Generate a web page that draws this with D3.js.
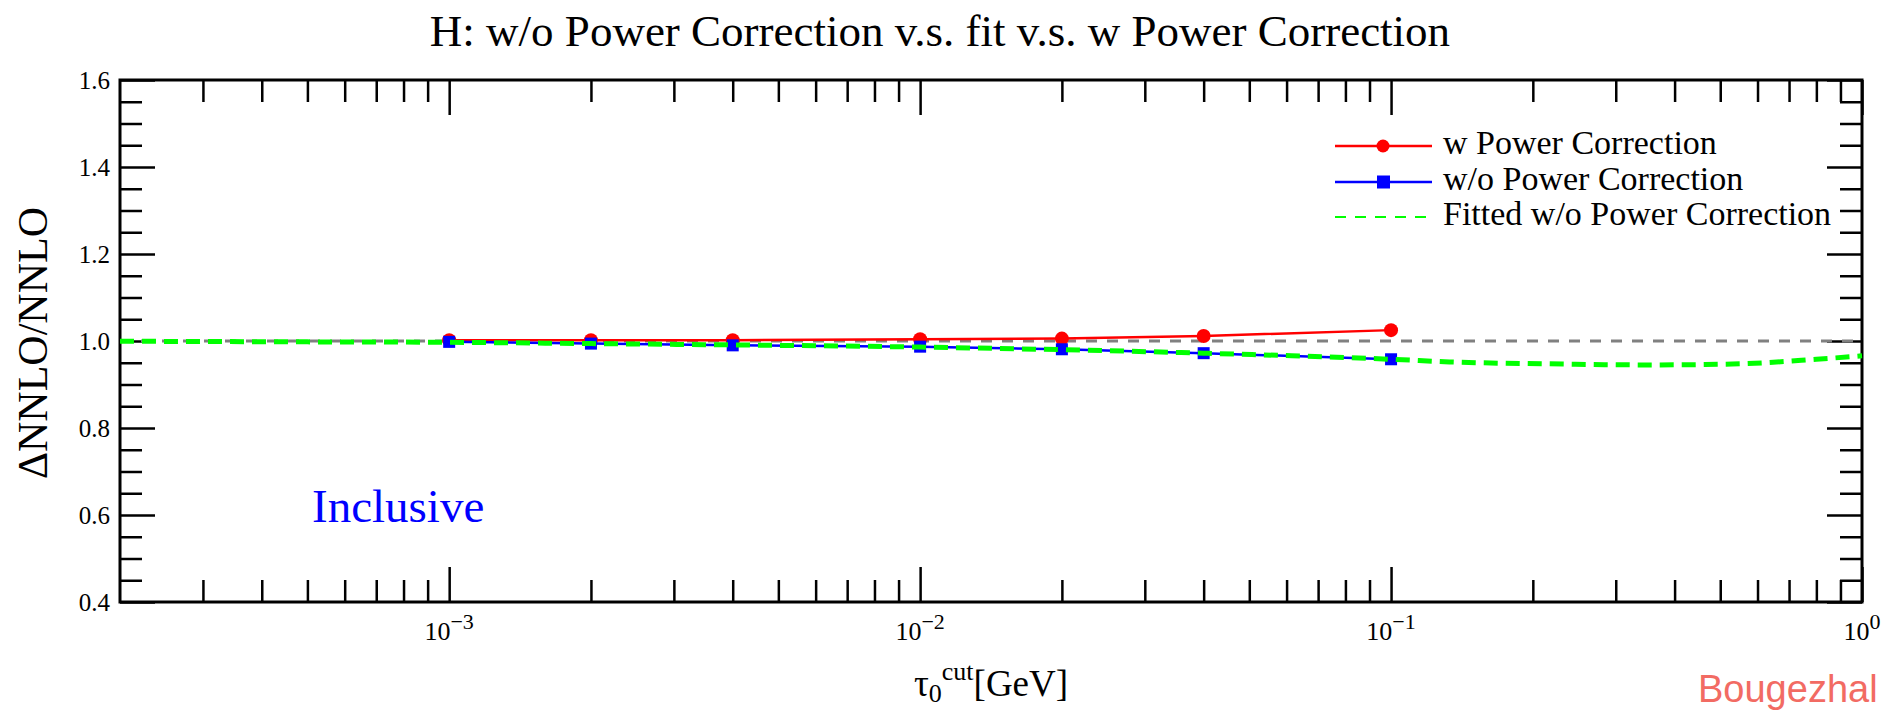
<!DOCTYPE html>
<html>
<head>
<meta charset="utf-8">
<script src="https://cdn.jsdelivr.net/npm/d3@7"></script>
<style>
  body { margin: 0; background: #fff; }
  svg text { font-family: "Liberation Serif", "Times New Roman", serif; fill: #000; }
</style>
</head>
<body>
<div id="chart"></div>
<script>
// Define constants

// Layout of the SVG
const DIMENSIONS = {
  width: 1883,
  height: 712,
  margin: {top: 80, right: 21, bottom: 110, left: 120}
}

// Data
const tauCut = [0.001, 0.002, 0.004, 0.01, 0.02, 0.04, 0.1];
const withPowerCorr = [1.002, 1.002, 1.002, 1.004, 1.0055, 1.0115, 1.025];
const withoutPowerCorr = [0.998, 0.994, 0.990, 0.987, 0.981, 0.972, 0.958];

// Fitted curve (read off the picture, not computed)
const fitTau = [0.0002, 0.0005, 0.001, 0.002, 0.004, 0.01, 0.02, 0.04, 0.1, 0.133, 0.232, 0.35, 0.53, 0.8, 1.0];
const fitValues = [0.9995, 0.998, 0.997, 0.994, 0.991, 0.986, 0.980, 0.972, 0.958, 0.952, 0.947, 0.945, 0.947, 0.958, 0.966];

// Tick labels
const xMajorTicks = [0.001, 0.01, 0.1, 1];
const xMajorExponents = ["−3", "−2", "−1", "0"];
const yMajorTicks = [0.4, 0.6, 0.8, 1.0, 1.2, 1.4, 1.6];

const legendLabels = ["w Power Correction", "w/o Power Correction", "Fitted w/o Power Correction"];

const svg = d3.select("#chart")
  .append("svg")
  .attr("width", DIMENSIONS.width)
  .attr("height", DIMENSIONS.height);

const x = d3.scaleLog()
  .domain([0.0002, 1])
  .range([DIMENSIONS.margin.left, DIMENSIONS.width - DIMENSIONS.margin.right]);

const y = d3.scaleLinear()
  .domain([0.4, 1.6])
  .range([DIMENSIONS.height - DIMENSIONS.margin.bottom, DIMENSIONS.margin.top]);

const x0 = x.range()[0], x1 = x.range()[1];
const y0 = y.range()[0], y1 = y.range()[1];

// minor ticks: 2..9 of every decade inside the domain
const xMinorTicks = [];
[0.0001, 0.001, 0.01, 0.1].forEach(dec => {
  for (let k = 2; k <= 9; k++) {
    const v = dec * k;
    if (v > 0.0002 && v < 1) xMinorTicks.push(v);
  }
});
const yMinorTicks = d3.range(0, 25).map(i => 0.4 + i * 0.05)
  .filter(v => Math.abs((v * 10) % 2) > 0.01);

// Axes, all ticks pointing inward
const styleAxis = g => {
  g.select(".domain").remove();
  g.selectAll("line").attr("stroke", "#000").attr("stroke-width", 2.5);
};

const MAJOR = 35, MINOR = 22;

svg.append("g")
  .attr("transform", `translate(0,${y0})`)
  .call(d3.axisBottom(x).tickValues(xMajorTicks).tickSize(-MAJOR).tickFormat(""))
  .call(styleAxis);
svg.append("g")
  .attr("transform", `translate(0,${y0})`)
  .call(d3.axisBottom(x).tickValues(xMinorTicks).tickSize(-MINOR).tickFormat(""))
  .call(styleAxis);
svg.append("g")
  .attr("transform", `translate(0,${y1})`)
  .call(d3.axisTop(x).tickValues(xMajorTicks).tickSize(-MAJOR).tickFormat(""))
  .call(styleAxis);
svg.append("g")
  .attr("transform", `translate(0,${y1})`)
  .call(d3.axisTop(x).tickValues(xMinorTicks).tickSize(-MINOR).tickFormat(""))
  .call(styleAxis);

svg.append("g")
  .attr("transform", `translate(${x0},0)`)
  .call(d3.axisLeft(y).tickValues(yMajorTicks).tickSize(-MAJOR).tickPadding(10).tickFormat(d3.format(".1f")))
  .call(styleAxis)
  .call(g => g.selectAll("text")
    .attr("font-size", "25px")
    .attr("font-family", "Liberation Serif, Times New Roman, serif")
    .attr("fill", "#000"));
svg.append("g")
  .attr("transform", `translate(${x0},0)`)
  .call(d3.axisLeft(y).tickValues(yMinorTicks).tickSize(-MINOR).tickFormat(""))
  .call(styleAxis);
svg.append("g")
  .attr("transform", `translate(${x1},0)`)
  .call(d3.axisRight(y).tickValues(yMajorTicks).tickSize(-MAJOR).tickFormat(""))
  .call(styleAxis);
svg.append("g")
  .attr("transform", `translate(${x1},0)`)
  .call(d3.axisRight(y).tickValues(yMinorTicks).tickSize(-MINOR).tickFormat(""))
  .call(styleAxis);

// Frame
svg.append("rect")
  .attr("x", x0)
  .attr("y", y1)
  .attr("width", x1 - x0)
  .attr("height", y0 - y1)
  .attr("fill", "none")
  .attr("stroke", "#000")
  .attr("stroke-width", 3);

// x tick labels 10^n
const xLabels = svg.selectAll(".x-label")
  .data(xMajorTicks)
  .join("text")
  .attr("class", "x-label")
  .attr("x", d => x(d))
  .attr("y", y0 + 38)
  .attr("text-anchor", "middle")
  .attr("font-size", "26px");
xLabels.append("tspan").text("10");
xLabels.append("tspan")
  .attr("dy", -11)
  .attr("font-size", "22px")
  .text((d, i) => xMajorExponents[i]);

// Reference line at 1
svg.append("line")
  .attr("x1", x0)
  .attr("x2", x1)
  .attr("y1", y(1))
  .attr("y2", y(1))
  .attr("stroke", "#808080")
  .attr("stroke-width", 3)
  .attr("stroke-dasharray", "11,10");

const line = d3.line()
  .x(d => x(d[0]))
  .y(d => y(d[1]));

// w Power Correction
const redData = tauCut.map((t, i) => [t, withPowerCorr[i]]);
svg.append("path")
  .datum(redData)
  .attr("d", line)
  .attr("fill", "none")
  .attr("stroke", "#ff0000")
  .attr("stroke-width", 2.5);
svg.selectAll(".red-pt")
  .data(redData)
  .join("circle")
  .attr("class", "red-pt")
  .attr("cx", d => x(d[0]))
  .attr("cy", d => y(d[1]))
  .attr("r", 7)
  .attr("fill", "#ff0000");

// w/o Power Correction
const blueData = tauCut.map((t, i) => [t, withoutPowerCorr[i]]);
svg.append("path")
  .datum(blueData)
  .attr("d", line)
  .attr("fill", "none")
  .attr("stroke", "#0000ff")
  .attr("stroke-width", 2.5);
svg.selectAll(".blue-pt")
  .data(blueData)
  .join("rect")
  .attr("class", "blue-pt")
  .attr("x", d => x(d[0]) - 6)
  .attr("y", d => y(d[1]) - 6)
  .attr("width", 12)
  .attr("height", 12)
  .attr("fill", "#0000ff");

// Fitted curve
const fitData = fitTau.map((t, i) => [t, fitValues[i]]);
svg.append("path")
  .datum(fitData)
  .attr("d", line.curve(d3.curveMonotoneX))
  .attr("fill", "none")
  .attr("stroke", "#00ff00")
  .attr("stroke-width", 5)
  .attr("stroke-dasharray", "14,8");

// Legend
const legendRows = [146, 182, 217];
const legendColors = ["#ff0000", "#0000ff", "#00ff00"];
const legend = svg.append("g");
legendRows.forEach((ly, i) => {
  legend.append("line")
    .attr("x1", 1335)
    .attr("x2", 1432)
    .attr("y1", ly)
    .attr("y2", ly)
    .attr("stroke", legendColors[i])
    .attr("stroke-width", i === 2 ? 2 : 2.5)
    .attr("stroke-dasharray", i === 2 ? "11,9" : null);
  legend.append("text")
    .attr("x", 1443)
    .attr("y", ly - 4)
    .attr("dy", "0.35em")
    .attr("font-size", "34px")
    .text(legendLabels[i]);
});
legend.append("circle")
  .attr("cx", 1383).attr("cy", legendRows[0]).attr("r", 6.5).attr("fill", "#ff0000");
legend.append("rect")
  .attr("x", 1377).attr("y", legendRows[1] - 6.5).attr("width", 13).attr("height", 13).attr("fill", "#0000ff");

// Title
svg.append("text")
  .attr("x", 940)
  .attr("y", 46)
  .attr("text-anchor", "middle")
  .attr("font-size", "45px")
  .text("H: w/o Power Correction v.s. fit v.s. w Power Correction");

// Axis titles
svg.append("text")
  .attr("transform", "rotate(-90)")
  .attr("x", -343)
  .attr("y", 47)
  .attr("text-anchor", "middle")
  .attr("font-size", "42px")
  .text("ΔNNLO/NNLO");

const xTitle = svg.append("text")
  .attr("x", (x0 + x1) / 2)
  .attr("y", 696)
  .attr("text-anchor", "middle")
  .attr("font-size", "37px");
xTitle.append("tspan").text("τ");
xTitle.append("tspan").attr("dy", 6).attr("font-size", "26px").text("0");
xTitle.append("tspan").attr("dy", -22).attr("font-size", "26px").text("cut");
xTitle.append("tspan").attr("dy", 16).text("[GeV]");

// Annotation
svg.append("text")
  .attr("x", 312)
  .attr("y", 522)
  .attr("font-size", "47px")
  .style("fill", "#0000ff")
  .text("Inclusive");

// Watermark
svg.append("text")
  .attr("x", 1698)
  .attr("y", 702)
  .attr("font-size", "38px")
  .attr("font-weight", 300)
  .style("font-family", "Liberation Sans, Arial, sans-serif")
  .style("fill", "#f26b63")
  .text("Bougezhal");
</script>
</body>
</html>
